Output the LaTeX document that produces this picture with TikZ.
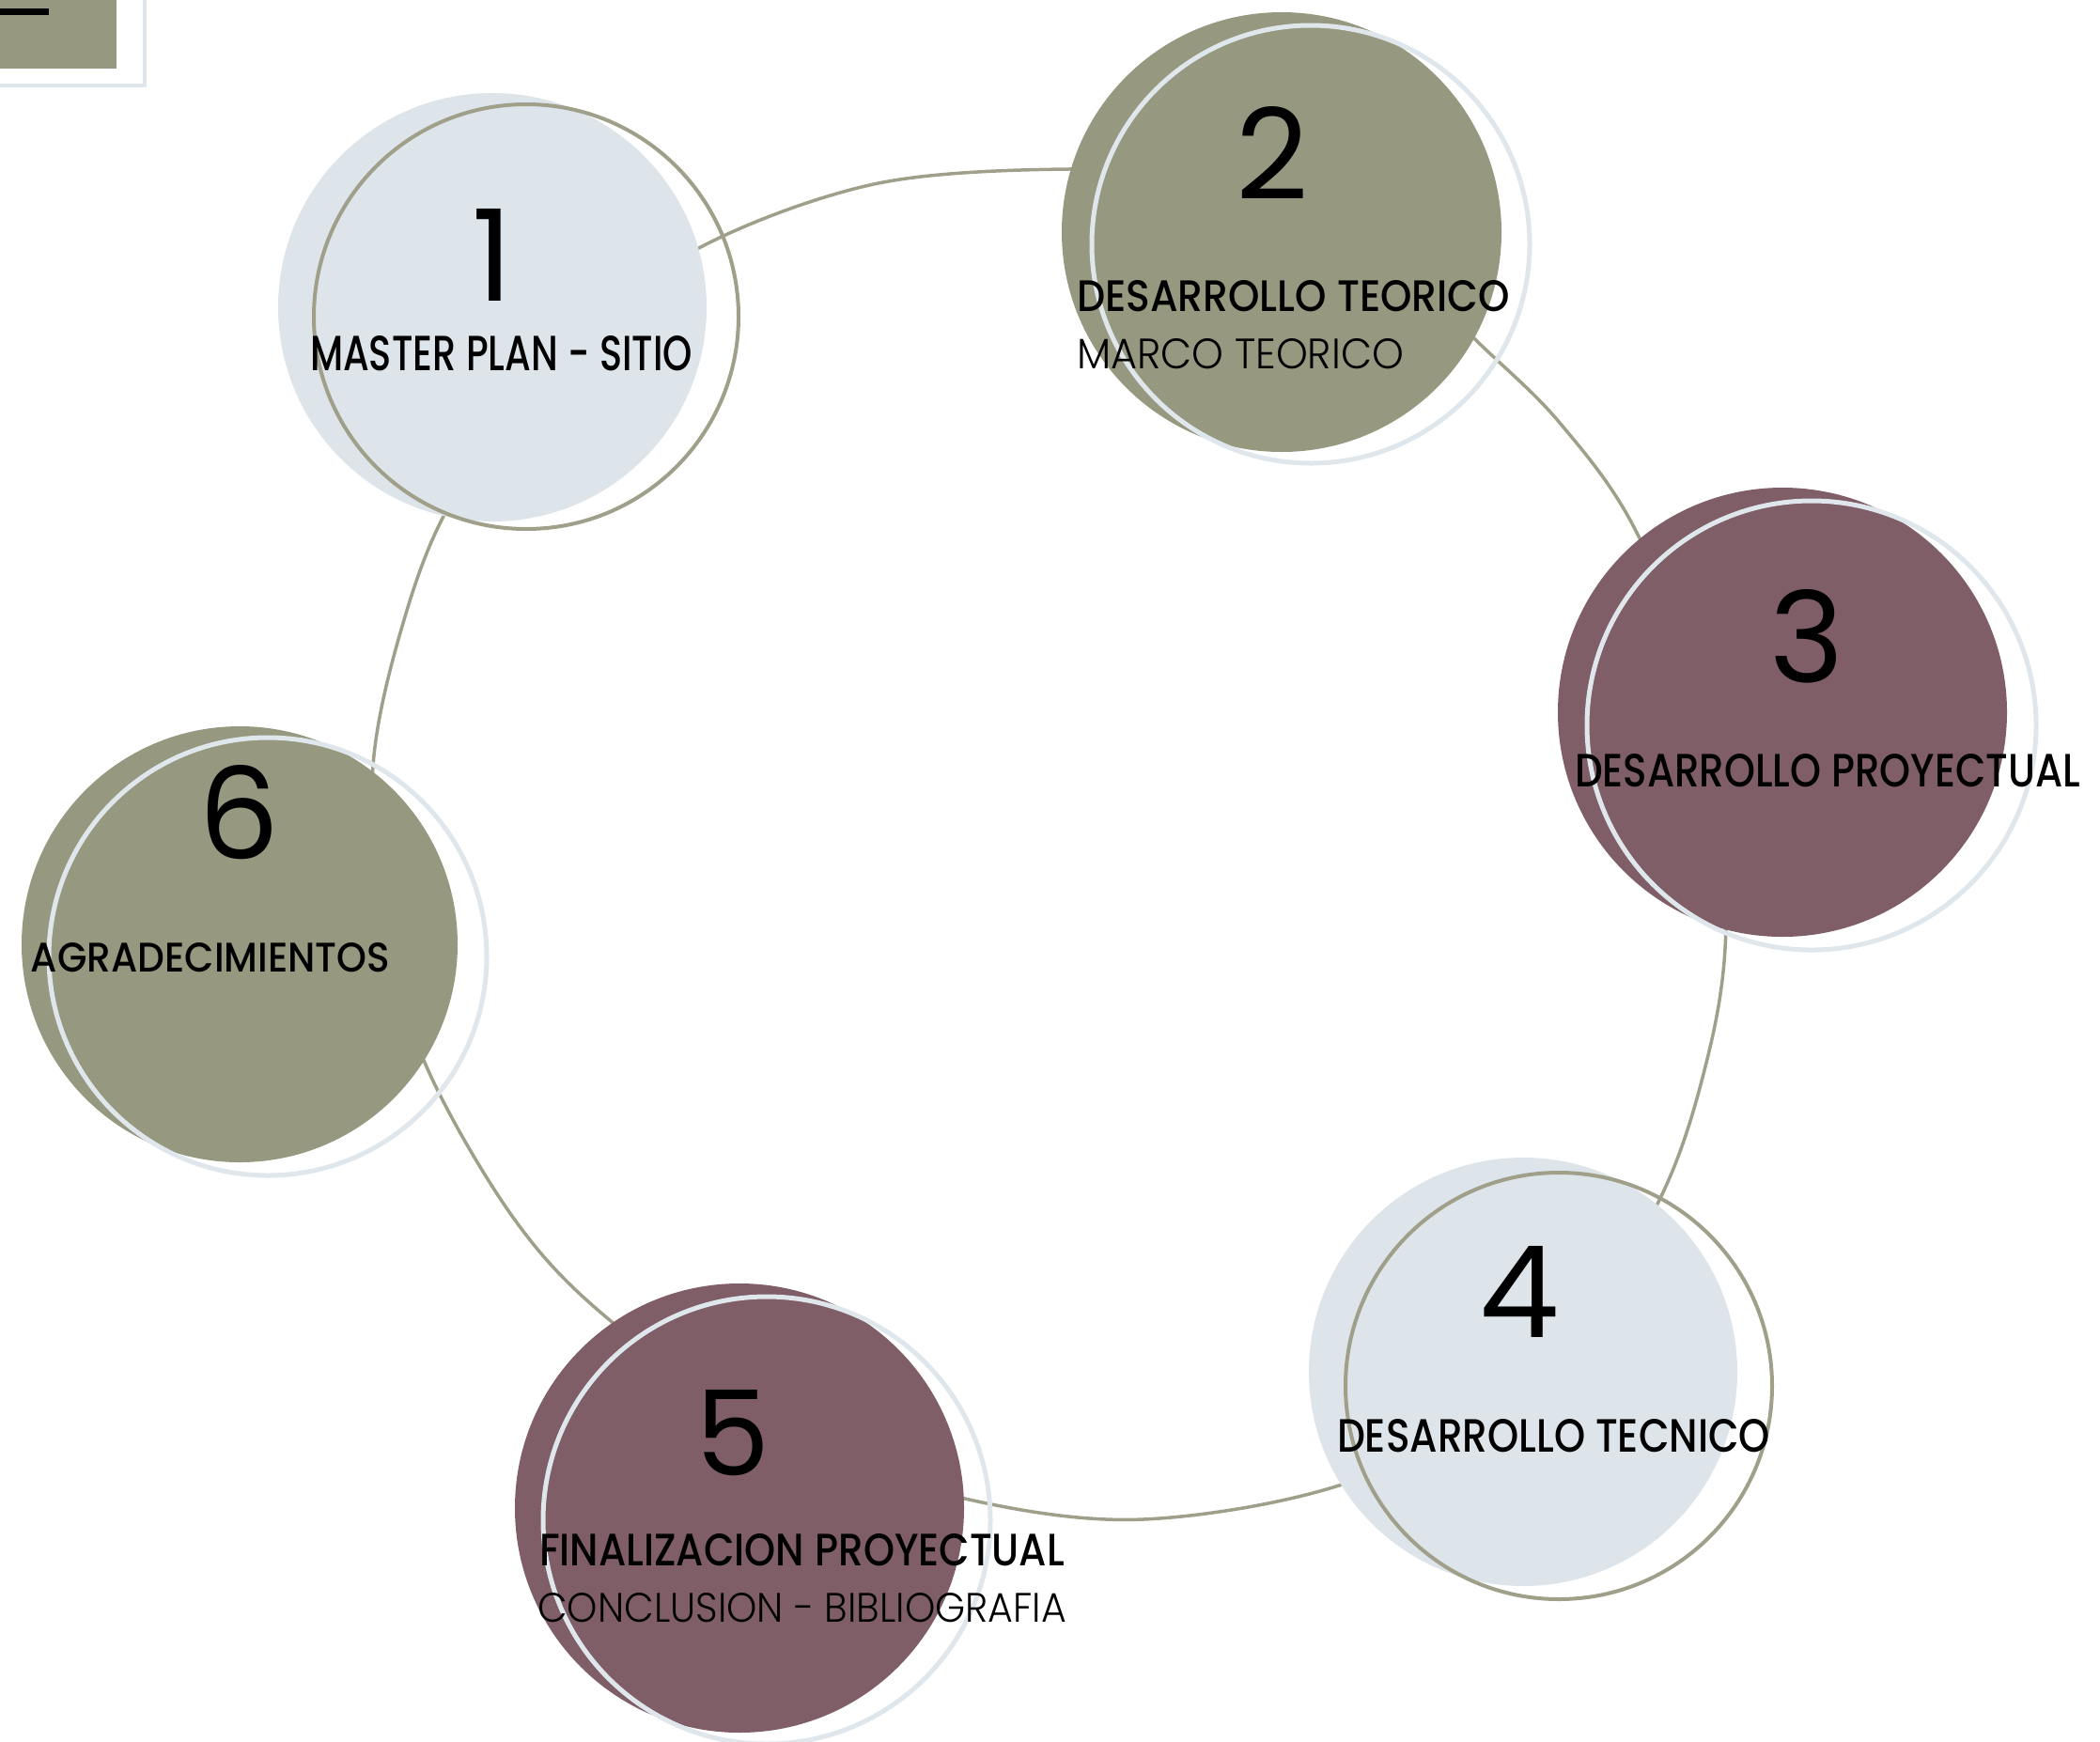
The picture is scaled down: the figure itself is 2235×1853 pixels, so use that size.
\documentclass[tikz,border=0pt]{standalone}
\usepackage{fontspec}
\usepackage{graphicx}
\setmainfont{Poppins}
\newfontfamily\pmed{Poppins Medium}
\newfontfamily\plight{Poppins Light}
\definecolor{olivefill}{HTML}{979880}
\definecolor{mauvefill}{HTML}{7F5E67}
\definecolor{bluefill}{HTML}{DDE5EA}
\definecolor{ringcol}{HTML}{A09F8A}
\definecolor{lightline}{HTML}{DFE7EC}
\newcommand\fittxt[3]{\resizebox{#1pt}{#2pt}{#3}}
\tikzset{
  disc/.style={circle, inner sep=0pt, outer sep=0pt, minimum size=#1},
  oliveout/.style={circle, inner sep=0pt, outer sep=0pt, minimum size=#1, draw=ringcol, line width=4pt},
  lightout/.style={circle, inner sep=0pt, outer sep=0pt, minimum size=#1, draw=lightline, line width=5pt},
  ringline/.style={draw=ringcol, line width=3.5pt},
  headtext/.style={anchor=south west, inner sep=0pt, outer sep=0pt, text=black},
  numtext/.style={anchor=south, inner sep=0pt, outer sep=0pt, text=black}
}
\begin{document}
\begin{tikzpicture}[x=1pt,y=-1pt]
\useasboundingbox (0,0) rectangle (2235,1853);
% top-left corner fragment
\fill[olivefill] (0,0) rectangle (124,73);
\draw[lightline, line width=4pt] (-20,-20) rectangle (154,91);
\fill[black] (0,9) rectangle (52,16);
% ring points
\coordinate (r1) at (740,266);
\coordinate (r2) at (930,196);
\coordinate (r4) at (1137,180);
\coordinate (h2a) at (1300,192);
\coordinate (h2b) at (1450,250);
\coordinate (r5) at (1577,368);
\coordinate (r6) at (1660,450);
\coordinate (r7) at (1740,563);
\coordinate (h3) at (1822,765);
\coordinate (r8) at (1837,982);
\coordinate (r9) at (1817,1127);
\coordinate (r10) at (1762,1285);
\coordinate (h4) at (1636,1471);
\coordinate (r11) at (1437,1577);
\coordinate (r12) at (1217,1617);
\coordinate (r13) at (1027,1595);
\coordinate (h5) at (820,1528);
\coordinate (r14) at (643,1400);
\coordinate (r15) at (547,1297);
\coordinate (r16) at (457,1142);
\coordinate (h6) at (404,983);
\coordinate (r17) at (397,815);
\coordinate (r18) at (427,670);
\coordinate (r19) at (477,540);
\coordinate (h1) at (585,381);
\draw[ringline] plot[smooth cycle, tension=0.55] coordinates {(r1) (r2) (r4) (h2a) (h2b) (r5) (r6) (r7) (h3) (r8) (r9) (r10) (h4) (r11) (r12) (r13) (h5) (r14) (r15) (r16) (h6) (r17) (r18) (r19) (h1)};
% filled discs
\node[disc=456pt, fill=bluefill] (f1) at (524,327) {};
\node[disc=468pt, fill=olivefill] (f2) at (1364,247) {};
\node[disc=478pt, fill=mauvefill] (f3) at (1897,758) {};
\node[disc=456pt, fill=bluefill] (f4) at (1621,1460) {};
\node[disc=478pt, fill=mauvefill] (f5) at (787,1605) {};
\node[disc=464pt, fill=olivefill] (f6) at (255,1005) {};
% offset outline rings
\node[oliveout=452pt] (o1) at (560,337) {};
\node[lightout=466pt] (o2) at (1395,260) {};
\node[lightout=478pt] (o3) at (1928,772) {};
\node[oliveout=454pt] (o4) at (1659,1475) {};
\node[lightout=476pt] (o5) at (816,1618) {};
\node[lightout=466pt] (o6) at (285,1018) {};
% numbers
\node[numtext] (n1) at (524,320) {\resizebox{!}{98pt}{1}};
\node[numtext] (n2) at (1354,212) {\resizebox{!}{99pt}{2}};
\node[numtext] (n3) at (1923,727) {\resizebox{!}{99pt}{3}};
\node[numtext] (n4) at (1617,1423) {\resizebox{!}{97pt}{4}};
\node[numtext] (n5) at (780,1571) {\resizebox{!}{91pt}{5}};
\node[numtext] (n6) at (255,915) {\resizebox{!}{100pt}{6}};
% labels
\node[headtext] (t1) at (330,395) {\fittxt{407}{37}{\pmed MASTER PLAN - SITIO}};
\node[headtext] (t2a) at (1146,332) {\fittxt{461}{33}{\pmed DESARROLLO TEORICO}};
\node[headtext] (t2b) at (1146,393) {\fittxt{348}{32}{\plight MARCO TEORICO}};
\node[headtext] (t3) at (1676,838) {\fittxt{538}{35}{\pmed DESARROLLO PROYECTUAL}};
\node[headtext] (t4) at (1423,1546) {\fittxt{461}{35}{\pmed DESARROLLO TECNICO}};
\node[headtext] (t5a) at (574,1667) {\fittxt{559}{34}{\pmed FINALIZACION PROYECTUAL}};
\node[headtext] (t5b) at (572,1727) {\fittxt{563}{31}{\plight CONCLUSION - BIBLIOGRAFIA}};
\node[headtext] (t6) at (33,1035) {\fittxt{382}{31}{\pmed AGRADECIMIENTOS}};
\end{tikzpicture}
\end{document}
